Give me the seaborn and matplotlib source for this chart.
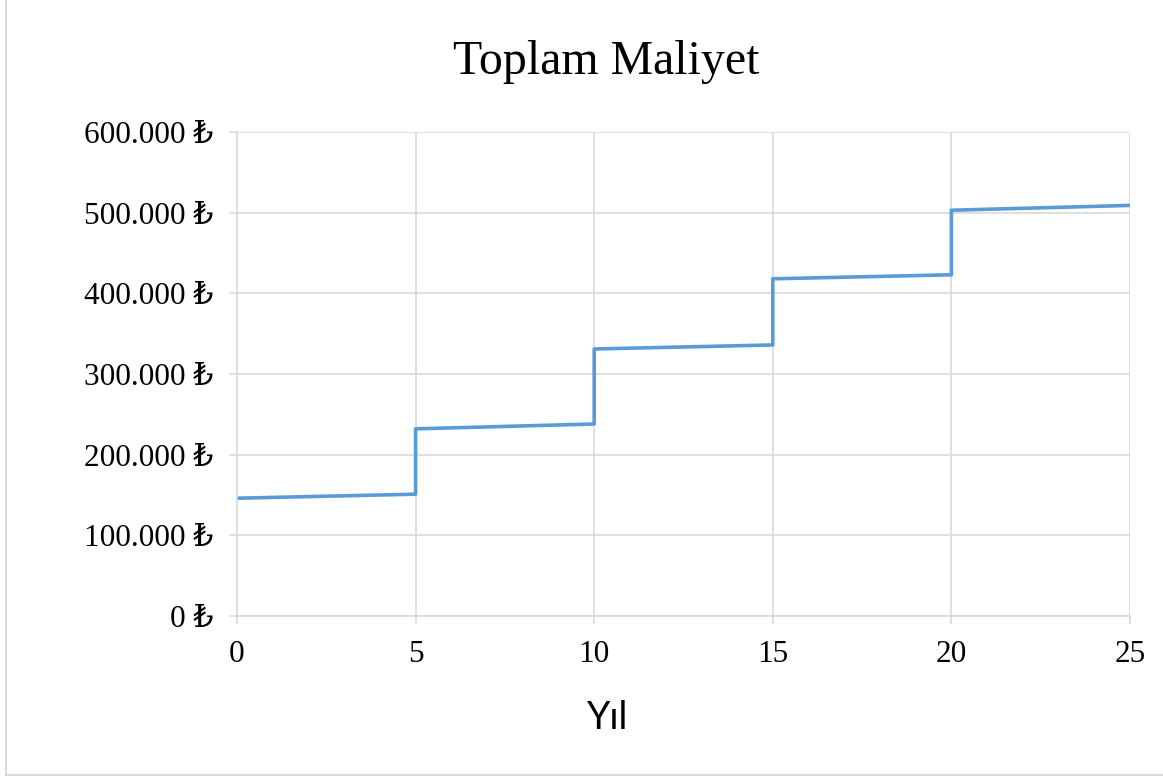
import matplotlib
matplotlib.use("Agg")
import matplotlib.pyplot as plt
from matplotlib.ticker import FuncFormatter, MultipleLocator
from matplotlib.lines import Line2D
import seaborn as sns

# Total cost over the years: each renewal (every 5 years) adds a step
years = [0, 5, 5, 10, 10, 15, 15, 20, 20, 25]
total_cost = [146000, 151000, 232000, 238000, 331000, 336000,
              418000, 423000, 503000, 509000]

title_text = "Toplam Maliyet"
x_label = "Yıl"

sns.set_theme(style="white")
serif = ["Liberation Serif", "DejaVu Serif"]
plt.rcParams["font.family"] = serif

grid_c = "#D9D9D9"
line_c = "#5B9BD5"

fig = plt.figure(figsize=(11.63, 7.76), dpi=100)
ax = fig.add_axes([0.2038, 0.2062, 0.9716 - 0.2038, 0.8299 - 0.2062])

sns.lineplot(x=years, y=total_cost, sort=False, estimator=None,
             color=line_c, linewidth=2.6, ax=ax)

ax.set_xlim(0, 25)
ax.set_ylim(0, 600000)
ax.xaxis.set_major_locator(MultipleLocator(5))
ax.yaxis.set_major_locator(MultipleLocator(100000))
ax.yaxis.set_major_formatter(
    FuncFormatter(lambda v, _: f"{v:,.0f}".replace(",", ".") + " ₺"))

ax.grid(True, color=grid_c, linewidth=1.2)
ax.set_axisbelow(True)
for side in ("top", "right"):
    ax.spines[side].set_visible(False)
for side in ("left", "bottom"):
    ax.spines[side].set_color(grid_c)
    ax.spines[side].set_linewidth(1.2)

ax.tick_params(axis="both", which="major", length=6, width=1.2,
               color=grid_c, labelsize=22.5,
               left=True, bottom=True, direction="out")
ax.tick_params(axis="y", pad=11)
ax.tick_params(axis="x", pad=11)
for lbl in ax.get_xticklabels() + ax.get_yticklabels():
    lbl.set_fontfamily(serif)
    lbl.set_color("black")

ax.set_xlabel("")
ax.set_ylabel("")
fig.text(608 / 1163, 1 - 718 / 776, x_label, ha="center", va="center",
         family=["Lato", "DejaVu Sans"], fontsize=27, color="black")

fig.text(606 / 1163, 1 - 62 / 776, title_text, ha="center", va="center",
         fontsize=34.5, family=serif, color="black")

# chart frame edges
fig.add_artist(Line2D([5.5 / 1163, 5.5 / 1163], [1.5 / 776, 1.0],
                      transform=fig.transFigure, color=grid_c, linewidth=1.5))
fig.add_artist(Line2D([5.5 / 1163, 1.0], [1.5 / 776, 1.5 / 776],
                      transform=fig.transFigure, color=grid_c, linewidth=1.5))

fig.savefig("out.png", dpi=100, facecolor="white")
